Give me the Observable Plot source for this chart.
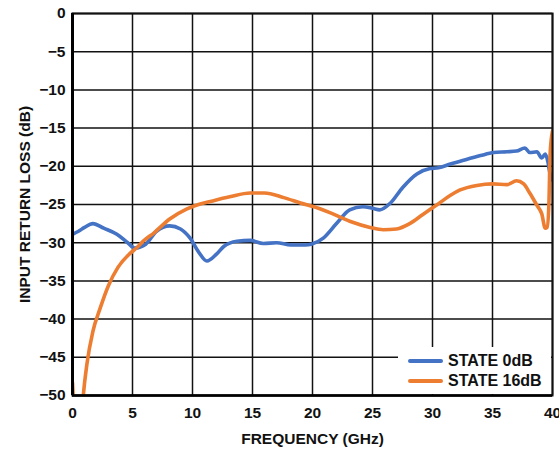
<!DOCTYPE html>
<html>
<head>
<meta charset="utf-8">
<script src="https://cdn.jsdelivr.net/npm/d3@7"></script>
<script src="https://cdn.jsdelivr.net/npm/@observablehq/plot@0.6"></script>
<style>
  html, body { margin: 0; padding: 0; background: #fff; }
  #wrap { position: relative; width: 559px; height: 449px; font-family: "Liberation Sans", Arial, sans-serif; }
  #legend { position: absolute; left: 398px; top: 347px; width: 153px; height: 47px; background: #fff; }
  .item { position: absolute; left: 10px; height: 20px; display: flex; align-items: center; font-weight: bold; font-size: 16px; color: #111; white-space: nowrap; }
  .swatch { width: 35px; height: 4px; margin-right: 5px; border-radius: 2px; }
</style>
</head>
<body>
<div id="wrap"></div>
<script>
const xTicks = [0, 5, 10, 15, 20, 25, 30, 35, 40];
const yTicks = [0, -5, -10, -15, -20, -25, -30, -35, -40, -45, -50];
const seriesNames = ["STATE 0dB", "STATE 16dB"];
const seriesColors = ["#4472C4", "#ED7D31"];

const freq0 = [0, 0.5, 1.0, 1.7, 2.6, 3.7, 4.6, 5.2, 6.1, 7.0, 8.1, 9.0, 9.8, 10.5, 11.2, 12.0, 12.6, 13.7, 14.8, 15.9, 17.0, 18.2, 19.4, 19.9, 20.9, 22.0, 23.1, 24.2, 25.0, 25.6, 26.5, 27.5, 28.7, 29.8, 30.5, 31.5, 32.6, 34.0, 35.1, 36.2, 37.0, 37.7, 38.1, 38.7, 39.1, 39.4, 39.6, 39.8, 40];
const loss0 = [-28.9, -28.5, -28.0, -27.5, -28.1, -28.9, -30.0, -30.7, -30.2, -28.5, -27.8, -28.2, -29.4, -31.2, -32.4, -31.5, -30.5, -29.8, -29.7, -30.1, -30.0, -30.3, -30.3, -30.2, -29.4, -27.5, -25.7, -25.3, -25.5, -25.7, -24.8, -22.8, -21.0, -20.3, -20.2, -19.7, -19.2, -18.6, -18.2, -18.1, -18.0, -17.6, -18.2, -18.1, -18.9, -18.4, -19.3, -21.0, -21.8];

const freq16 = [0, 0.12, 0.5, 0.8, 0.9, 1.2, 1.7, 2.3, 3.0, 3.8, 4.8, 5.4, 5.9, 6.8, 8.1, 9.5, 10.5, 11.5, 13.1, 14.8, 16.0, 17.6, 19.0, 20.5, 21.5, 23.1, 24.8, 25.9, 27.0, 28.1, 29.2, 30.5, 31.5, 32.3, 33.7, 35.0, 36.2, 37.0, 37.6, 38.1, 38.7, 39.1, 39.4, 39.55, 39.7, 39.8, 40];
const loss16 = [-48.3, -52, -65, -52, -50, -45.9, -41.6, -38.6, -35.6, -33.2, -31.4, -30.6, -29.8, -28.7, -26.9, -25.6, -25.0, -24.6, -24.0, -23.5, -23.5, -24.1, -24.8, -25.5, -26.1, -27.2, -28.0, -28.3, -28.2, -27.5, -26.3, -24.9, -23.8, -23.1, -22.5, -22.3, -22.4, -21.9, -22.3, -23.5, -25.1, -26.2, -28.1, -28.0, -25.0, -18.4, -15.4];

const data0 = freq0.map((f, i) => ({f, v: loss0[i]}));
const data16 = freq16.map((f, i) => ({f, v: loss16[i]}));

const font = "Liberation Sans, Arial, sans-serif";

const chart = Plot.plot({
  width: 559,
  height: 449,
  marginLeft: 72,
  marginRight: 7,
  marginTop: 13,
  marginBottom: 54,
  style: {fontFamily: font, fontSize: "15px", fontWeight: "bold", color: "#111", background: "#fff"},
  x: {domain: [0, 40], axis: null},
  y: {domain: [-50, 0], axis: null},
  marks: [
    Plot.gridX(xTicks, {stroke: "#111", strokeOpacity: 1, strokeWidth: 1.5}),
    Plot.gridY(yTicks, {stroke: "#111", strokeOpacity: 1, strokeWidth: 1.5}),
    Plot.line(data0, {x: "f", y: "v", stroke: seriesColors[0], strokeWidth: 3.6, curve: "monotone-x", clip: true}),
    Plot.line(data16, {x: "f", y: "v", stroke: seriesColors[1], strokeWidth: 3.6, curve: "monotone-x", clip: true}),
    Plot.frame({stroke: "#111", strokeWidth: 2}),
    Plot.ruleX([0], {stroke: "#000", strokeWidth: 3}),
    Plot.ruleY([-50], {stroke: "#000", strokeWidth: 2.5}),
    Plot.axisX(xTicks, {tickSize: 0, tickPadding: 11, fontSize: 15.5, fontWeight: "bold", fill: "#111",
      label: "FREQUENCY (GHz)", labelAnchor: "center", labelArrow: "none", labelOffset: 48}),
    Plot.axisY(yTicks, {tickSize: 0, tickPadding: 7, tickFormat: d3.format("d"), fontSize: 15.5, fontWeight: "bold", fill: "#111",
      label: "INPUT RETURN LOSS (dB)", labelAnchor: "center", labelArrow: "none", labelOffset: 54})
  ]
});

const wrap = document.getElementById("wrap");
wrap.appendChild(chart);

const legend = document.createElement("div");
legend.id = "legend";
seriesNames.forEach((name, i) => {
  const item = document.createElement("div");
  item.className = "item";
  item.style.top = (4 + i * 20) + "px";
  const sw = document.createElement("span");
  sw.className = "swatch";
  sw.style.background = seriesColors[i];
  const label = document.createElement("span");
  label.textContent = name;
  item.appendChild(sw);
  item.appendChild(label);
  legend.appendChild(item);
});
wrap.appendChild(legend);
</script>
</body>
</html>
